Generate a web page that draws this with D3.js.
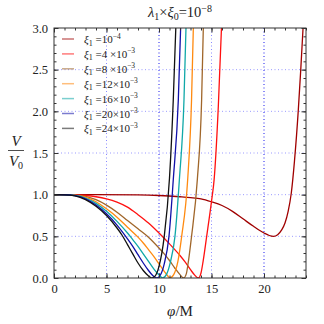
<!DOCTYPE html>
<html>
<head>
<meta charset="utf-8">
<script src="https://cdn.jsdelivr.net/npm/d3@7"></script>
<style>
  body { margin: 0; background: #fff; }
  text { font-family: "Liberation Serif", "DejaVu Serif", serif; fill: #222; }
</style>
</head>
<body>
<script>
// legend labels: [mantissa text, exponent]
const labels = [['', '−4'], ['4 ×', '−3'], ['8 ×', '−3'], ['12×', '−3'], ['16×', '−3'], ['20×', '−3'], ['24×', '−3']]
const colors = ['#a00000', '#ff1010', '#a0662a', '#ff8a10', '#10a8a8', '#1010a8', '#111111']

// curves: [phi/M, V/V0]
const xi1e4 = [[0,1],[4,1],[8,0.997],[10,0.99],[12,0.975],[13,0.965],[14,0.95],[15,0.915],[16,0.87],[17,0.8],[18,0.71],[19,0.62],[20,0.54],[20.5,0.51],[20.9,0.5],[21.3,0.52],[21.7,0.58],[22,0.66],[22.3,0.8],[22.6,1.02],[22.9,1.4],[23.27,2.02],[23.5,2.5],[23.72,3.0]]
const xi4 = [[0,1],[2,0.998],[3,0.99],[4,0.975],[5,0.95],[6,0.91],[7,0.85],[8,0.76],[9,0.66],[10,0.54],[11,0.41],[12,0.27],[12.5,0.19],[13,0.1],[13.4,0.035],[13.75,0],[14.0,0.06],[14.2,0.2],[14.54,0.5],[15.0,0.92],[15.25,1.18],[15.65,2.06],[15.95,3.0]]
const xi8 = [[0,1],[2,0.995],[3,0.98],[4,0.94],[5,0.875],[6,0.79],[7,0.69],[8,0.59],[9,0.49],[10,0.36],[10.5,0.29],[11,0.21],[11.5,0.12],[12,0.04],[12.35,0],[12.6,0.05],[12.8,0.2],[13.1,0.5],[13.65,1.18],[14.06,2.14],[14.22,3.0]]
const xi12 = [[0,1],[1,0.999],[2,0.992],[3,0.97],[4,0.915],[5,0.83],[6,0.73],[7,0.61],[8,0.49],[8.5,0.42],[9,0.34],[9.5,0.26],[10,0.17],[10.5,0.08],[10.8,0.03],[11.05,0],[11.4,0.04],[11.8,0.2],[12.16,0.5],[12.73,1.18],[13.1,2.14],[13.27,3.0]]
const xi16 = [[0,1],[1,0.999],[2,0.99],[3,0.96],[4,0.895],[5,0.8],[6,0.68],[7,0.54],[7.5,0.46],[8,0.38],[8.5,0.29],[9,0.2],[9.5,0.11],[10,0.035],[10.35,0],[10.7,0.04],[11.1,0.2],[11.52,0.5],[11.94,1.18],[12.38,2.14],[12.57,3.0]]
const xi20 = [[0,1],[1,0.999],[2,0.988],[3,0.95],[4,0.875],[5,0.77],[6,0.635],[7,0.47],[7.5,0.38],[8,0.28],[8.5,0.18],[9,0.09],[9.4,0.03],[9.78,0],[10.1,0.03],[10.5,0.17],[10.95,0.5],[11.36,1.18],[11.84,2.14],[12.06,3.0]]
const xi24 = [[0,1],[1,0.998],[2,0.985],[3,0.94],[4,0.86],[5,0.75],[6,0.6],[6.5,0.51],[7,0.4],[7.5,0.29],[8,0.18],[8.5,0.09],[9,0.025],[9.3,0],[9.6,0.02],[10.0,0.14],[10.5,0.5],[11.0,1.2],[11.36,2.14],[11.6,3.0]]
const series = [xi1e4, xi4, xi8, xi12, xi16, xi20, xi24]

const xTicks = [0, 5, 10, 15, 20]
const yTicks = [0, 0.5, 1, 1.5, 2, 2.5, 3]

const W = 324, H = 324
const L = 54, R = 306, T = 28, B = 278

const svg = d3.select('body').append('svg')
  .attr('width', W).attr('height', H)

const x = d3.scaleLinear().domain([0, 24]).range([L, R])
const y = d3.scaleLinear().domain([0, 3]).range([B, T])

svg.append('clipPath').attr('id', 'clip')
  .append('rect').attr('x', L).attr('y', T).attr('width', R - L).attr('height', B - T)

// grid
const grid = svg.append('g')
grid.selectAll('.gx').data([5, 10, 15, 20]).join('line')
  .attr('x1', d => x(d)).attr('x2', d => x(d)).attr('y1', T).attr('y2', B)
  .attr('stroke', d => d % 10 === 0 ? '#1a1aee' : '#8a8aff')
  .attr('stroke-width', 1).attr('stroke-dasharray', '1,2.5')
grid.selectAll('.gy').data([0.5, 1, 1.5, 2, 2.5]).join('line')
  .attr('x1', L).attr('x2', R).attr('y1', d => y(d)).attr('y2', d => y(d))
  .attr('stroke', '#9a9aff').attr('stroke-width', 1).attr('stroke-dasharray', '1,2.5')

// curves
const line = d3.line().x(d => x(d[0])).y(d => y(d[1])).curve(d3.curveMonotoneX)
svg.append('g').attr('clip-path', 'url(#clip)')
  .selectAll('path').data(series).join('path')
  .attr('d', line)
  .attr('fill', 'none')
  .attr('stroke', (d, i) => colors[i])
  .attr('stroke-width', 1.3)

// frame + ticks
const minorX = d3.range(0, 25, 1), minorY = d3.range(0, 3.01, 0.1)
function frameAxis(axis, scale, major, minor, tr, showLabels, fmt) {
  const g1 = svg.append('g').attr('transform', tr)
    .call(axis(scale).tickValues(minor).tickSize(-2.5).tickFormat(''))
  g1.select('.domain').remove()
  const g2 = svg.append('g').attr('transform', tr)
    .call(axis(scale).tickValues(major).tickSize(-4.5).tickPadding(showLabels ? 6 : 0)
      .tickFormat(showLabels ? fmt : ''))
  g2.select('.domain').remove()
  svg.selectAll('.tick line').attr('stroke', '#333')
  g2.selectAll('text').style('font-size', '12.5px').attr('fill', '#1a1a1a')
}
frameAxis(d3.axisBottom, x, xTicks, minorX, `translate(0,${B})`, true, d3.format('d'))
frameAxis(d3.axisTop, x, xTicks, minorX, `translate(0,${T})`, false)
frameAxis(d3.axisLeft, y, yTicks, minorY, `translate(${L},0)`, true, d3.format('.1f'))
frameAxis(d3.axisRight, y, yTicks, minorY, `translate(${R},0)`, false)

svg.append('rect').attr('x', L).attr('y', T).attr('width', R - L).attr('height', B - T)
  .attr('fill', 'none').attr('stroke', '#333').attr('stroke-width', 1)

// legend
const leg = svg.append('g')
labels.forEach((lb, i) => {
  const yy = 39 + i * 14.9
  leg.append('line').attr('x1', 62).attr('x2', 74).attr('y1', yy).attr('y2', yy)
    .attr('stroke', colors[i]).attr('stroke-width', 1.5).attr('opacity', 0.55)
  const t = leg.append('text').attr('x', 84).attr('y', yy + 4).style('font-size', '11px')
  t.append('tspan').style('font-style', 'italic').text('ξ')
  t.append('tspan').attr('dy', 2.5).style('font-size', '8px').text('1')
  t.append('tspan').attr('dy', -2.5).text(' =' + lb[0] + '10')
  t.append('tspan').attr('dy', -4.5).style('font-size', '7.5px').text(lb[1])
})

// title
const title = svg.append('text').attr('x', 180).attr('y', 17).attr('text-anchor', 'middle')
  .style('font-size', '14.5px')
title.append('tspan').style('font-style', 'italic').text('λ')
title.append('tspan').attr('dy', 3).style('font-size', '10px').text('1')
title.append('tspan').attr('dy', -3).text('×')
title.append('tspan').style('font-style', 'italic').text('ξ')
title.append('tspan').attr('dy', 3).style('font-size', '10px').text('0')
title.append('tspan').attr('dy', -3).text('=10')
title.append('tspan').attr('dy', -5.5).style('font-size', '10px').text('−8')

// axis labels
const xl = svg.append('text').attr('x', 180).attr('y', 316).attr('text-anchor', 'middle')
  .style('font-size', '15px')
xl.append('tspan').style('font-style', 'italic').text('φ')
xl.append('tspan').text('/M')

svg.append('text').attr('x', 16).attr('y', 146).attr('text-anchor', 'middle')
  .style('font-size', '15px').style('font-style', 'italic').text('V')
svg.append('line').attr('x1', 8).attr('x2', 24).attr('y1', 150.5).attr('y2', 150.5)
  .attr('stroke', '#222').attr('stroke-width', 0.8)
const v0 = svg.append('text').attr('x', 16).attr('y', 166).attr('text-anchor', 'middle')
  .style('font-size', '15px')
v0.append('tspan').style('font-style', 'italic').text('V')
v0.append('tspan').attr('dy', 3).style('font-size', '10px').text('0')
</script>
</body>
</html>
